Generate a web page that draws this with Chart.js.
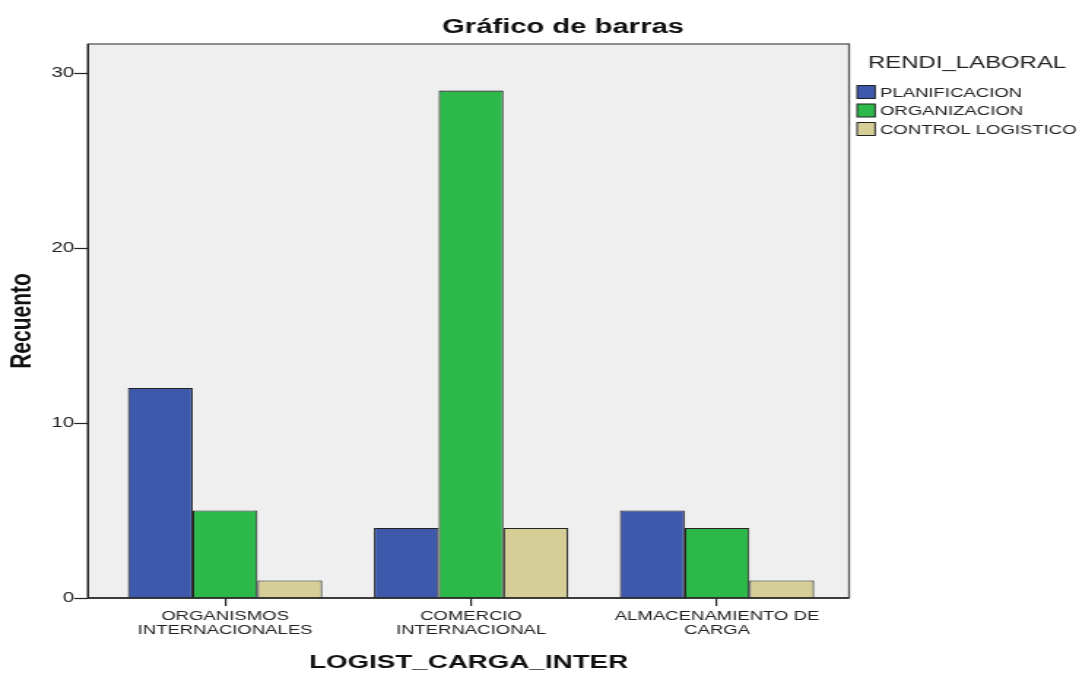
<!DOCTYPE html>
<html>
<head>
<meta charset="utf-8">
<script src="https://cdn.jsdelivr.net/npm/chart.js@4"></script>
<style>
  html, body { margin: 0; padding: 0; background: #fff; overflow: hidden; }
  /* the reference picture is stretched sideways, so the canvas is too */
  #wrap { width: 739px; height: 675px; transform: scale(1.4601, 1); transform-origin: 0 0; }
</style>
</head>
<body>
<div id="wrap"><canvas id="myChart" width="739" height="675"></canvas></div>
<script>
// data
const categories = [
    ['ORGANISMOS', 'INTERNACIONALES'],
    ['COMERCIO', 'INTERNACIONAL'],
    ['ALMACENAMIENTO DE', 'CARGA']
];
const seriesNames = ['PLANIFICACION', 'ORGANIZACION', 'CONTROL LOGISTICO'];
const planificacion = [12, 4, 5];
const organizacion = [5, 29, 4];
const controlLogistico = [1, 4, 1];
const yTicks = [0, 10, 20, 30];
const colors = ['#3e58ab', '#2db84a', '#d5ce97'];

const FONT = '"Liberation Sans", Arial, sans-serif';
// the plot frame is a bit wider than the band the categories use
const frameLeft = 60.3;
const frameRight = 581.5;

// background, frame, axes, titles and legend
const plotFrame = {
    id: 'plotFrame',
    beforeDraw(chart) {
        const a = chart.chartArea;
        const c = chart.ctx;
        c.save();
        c.fillStyle = '#efefef';
        c.fillRect(frameLeft, a.top, frameRight - frameLeft, a.bottom - a.top);
        c.restore();
    },
    afterDraw(chart) {
        const a = chart.chartArea;
        const c = chart.ctx;
        const y = chart.scales.y;
        c.save();
        c.strokeStyle = '#555';
        c.lineWidth = 1.3;
        c.strokeRect(frameLeft, a.top, frameRight - frameLeft, a.bottom - a.top);

        // y axis line, x axis line and y tick marks
        c.strokeStyle = '#222';
        c.beginPath();
        c.moveTo(frameLeft, a.top);
        c.lineTo(frameLeft, a.bottom);
        c.lineTo(frameRight, a.bottom);
        c.stroke();
        c.lineWidth = 1.2;
        yTicks.forEach(function(v) {
            const py = Math.round(y.getPixelForValue(v)) + 0.5;
            c.beginPath();
            c.moveTo(frameLeft - 9.6, py);
            c.lineTo(frameLeft, py);
            c.stroke();
        });

        // chart title
        c.fillStyle = '#111';
        c.font = 'bold 20px ' + FONT;
        c.textAlign = 'center';
        c.textBaseline = 'middle';
        c.fillText('Gráfico de barras', 385.6, 27);

        // axis titles
        c.font = 'bold 19px ' + FONT;
        c.fillText('LOGIST_CARGA_INTER', (frameLeft + frameRight) / 2, 663);
        c.save();
        c.translate(15, (a.top + a.bottom) / 2);
        c.rotate(-Math.PI / 2);
        c.font = 'bold 21px ' + FONT;
        c.fillText('Recuento', 0, 0);
        c.restore();

        // legend
        c.textAlign = 'left';
        c.fillStyle = '#222';
        c.font = '16.4px ' + FONT;
        c.fillText('RENDI_LABORAL', 594.5, 63);
        c.font = '12.7px ' + FONT;
        chart.data.datasets.forEach(function(ds, i) {
            const ly = 92 + i * 18.5;
            c.fillStyle = ds.backgroundColor;
            c.fillRect(587, ly - 6.5, 12.3, 13);
            c.strokeStyle = '#222';
            c.lineWidth = 1;
            c.strokeRect(587, ly - 6.5, 12.3, 13);
            c.fillStyle = '#222';
            c.fillText(ds.label, 602.7, ly + 1);
        });
        c.restore();
    }
};

const ctx = document.getElementById('myChart').getContext('2d');
const chart = new Chart(ctx, {
    type: 'bar',
    data: {
        labels: categories,
        datasets: [
            { label: seriesNames[0], data: planificacion, backgroundColor: colors[0] },
            { label: seriesNames[1], data: organizacion, backgroundColor: colors[1] },
            { label: seriesNames[2], data: controlLogistico, backgroundColor: colors[2] }
        ].map(function(ds) {
            ds.borderColor = '#222';
            ds.borderWidth = 1.1;
            ds.barPercentage = 1;
            ds.categoryPercentage = 0.79;
            return ds;
        })
    },
    options: {
        responsive: false,
        animation: false,
        devicePixelRatio: 1,
        layout: { padding: { left: 0, right: 739 - 575.3, top: 44, bottom: 0 } },
        plugins: {
            legend: { display: false },
            title: { display: false },
            tooltip: { enabled: false }
        },
        scales: {
            x: {
                grid: { drawOnChartArea: false, tickLength: 8, tickColor: '#222', lineWidth: 1.2, offset: false },
                border: { display: false },
                ticks: {
                    color: '#222',
                    font: { family: FONT, size: 12.7, lineHeight: 1.1 },
                    maxRotation: 0,
                    autoSkip: false,
                    padding: 4
                },
                afterFit: function(scale) { scale.height = 77; }
            },
            y: {
                min: 0,
                max: 31.66,
                grid: { display: false, drawTicks: false },
                border: { display: false },
                afterBuildTicks: function(scale) {
                    scale.ticks = yTicks.map(function(v) { return { value: v }; });
                },
                ticks: {
                    color: '#222',
                    font: { family: FONT, size: 14 },
                    padding: 69.9 - 50.7
                },
                afterFit: function(scale) { scale.width = 69.9; }
            }
        }
    },
    plugins: [plotFrame]
});
</script>
</body>
</html>
